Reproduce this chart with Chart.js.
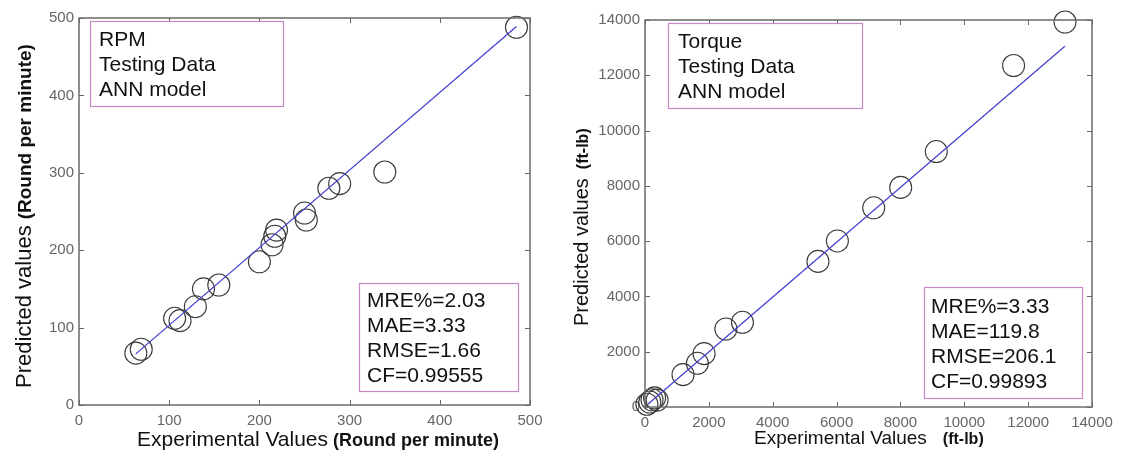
<!DOCTYPE html>
<html>
<head>
<meta charset="utf-8">
<script src="https://cdn.jsdelivr.net/npm/chart.js"></script>
<style>
  html, body { margin: 0; padding: 0; background: #fff; }
  #wrap { position: relative; width: 1121px; height: 457px; }
  .pane { position: absolute; top: 0; }
</style>
</head>
<body>
<div id="wrap">
  <div class="pane" style="left:0"><canvas id="grafico_rpm" width="560" height="457"></canvas></div>
  <div class="pane" style="left:560px"><canvas id="grafico_torque" width="561" height="457"></canvas></div>
</div>
<script>
// RPM testing data (ANN model)
const rpmExperimental = [63, 69, 106, 112, 129, 138, 155, 200, 214, 217, 219, 250, 252, 277, 289, 339, 485];
const rpmPredicted    = [67, 72, 112, 109, 127, 150, 155, 185, 207, 218, 226, 248, 239, 280, 286, 301, 488];
const rpmFitX = [63, 485];
const rpmFitY = [66, 489];
const rpmTicks = [0, 100, 200, 300, 400, 500];
const rpmInfo  = ['RPM', 'Testing Data', 'ANN model'];
const rpmStats = ['MRE%=2.03', 'MAE=3.33', 'RMSE=1.66', 'CF=0.99555'];

// Torque testing data (ANN model)
const torqueExperimental = [60, 150, 220, 300, 380, 1190, 1640, 1850, 2534, 3052, 5417, 6025, 7163, 8008, 9123, 11544, 13155];
const torquePredicted    = [100, 180, 260, 330, 250, 1170, 1580, 1930, 2822, 3064, 5268, 6007, 7206, 7945, 9241, 12353, 13927];
const torqueFitX = [90, 13150];
const torqueFitY = [100, 13050];
const torqueTicks = [0, 2000, 4000, 6000, 8000, 10000, 12000, 14000];
const torqueInfo  = ['Torque', 'Testing Data', 'ANN model'];
const torqueStats = ['MRE%=3.33', 'MAE=119.8', 'RMSE=206.1', 'CF=0.99893'];

const FONT = 'Arial, "Liberation Sans", sans-serif';

// frame with inward ticks, text boxes and axis titles (matlab look)
const decoPlugin = {
  id: 'deco',
  afterDraw(chart, args, o) {
    const { ctx, chartArea: a, scales } = chart;
    ctx.save();
    // inward ticks
    ctx.strokeStyle = '#666';
    ctx.lineWidth = 1;
    scales.x.ticks.forEach(t => {
      const px = Math.round(scales.x.getPixelForValue(t.value)) + 0.5;
      ctx.beginPath();
      ctx.moveTo(px, a.bottom); ctx.lineTo(px, a.bottom - 5);
      ctx.moveTo(px, a.top); ctx.lineTo(px, a.top + 5);
      ctx.stroke();
    });
    scales.y.ticks.forEach(t => {
      const py = Math.round(scales.y.getPixelForValue(t.value)) + 0.5;
      ctx.beginPath();
      ctx.moveTo(a.left, py); ctx.lineTo(a.left + 5, py);
      ctx.moveTo(a.right, py); ctx.lineTo(a.right - 5, py);
      ctx.stroke();
    });
    // box
    ctx.strokeStyle = '#6a6a6a';
    ctx.lineWidth = 1.5;
    ctx.strokeRect(a.left, a.top, a.right - a.left, a.bottom - a.top);

    // text boxes
    ctx.font = '21px ' + FONT;
    ctx.textBaseline = 'alphabetic';
    ctx.textAlign = 'left';
    o.boxes.forEach(b => {
      ctx.fillStyle = '#fff';
      ctx.fillRect(b.x, b.y, b.w, b.h);
      ctx.strokeStyle = '#c58ac5';
      ctx.lineWidth = 1.2;
      ctx.strokeRect(b.x + 0.5, b.y + 0.5, b.w, b.h);
      ctx.fillStyle = '#111';
      b.lines.forEach((s, i) => ctx.fillText(s, b.tx, b.ty + i * 25));
    });

    // x title
    const xt = o.xTitle;
    ctx.fillStyle = '#111';
    ctx.font = xt.size + 'px ' + FONT;
    ctx.fillText(xt.main, xt.x, xt.y);
    let w = ctx.measureText(xt.main).width;
    ctx.font = 'bold ' + xt.subSize + 'px ' + FONT;
    ctx.fillText(xt.sub, xt.x + w + xt.gap, xt.y);

    // y title
    const yt = o.yTitle;
    ctx.translate(yt.x, yt.y);
    ctx.rotate(-Math.PI / 2);
    ctx.font = yt.size + 'px ' + FONT;
    ctx.fillText(yt.main, 0, 0);
    w = ctx.measureText(yt.main).width;
    ctx.font = 'bold ' + yt.subSize + 'px ' + FONT;
    ctx.fillText(yt.sub, w + yt.gap, 0);
    ctx.restore();
  }
};

function pontos(xs, ys) {
  return xs.map((x, i) => ({ x: x, y: ys[i] }));
}

function montaGrafico(el, cfg) {
  const tickOpts = { color: '#666', font: { size: 15, family: FONT }, autoSkip: false, maxRotation: 0, callback: v => String(v) };
  return new Chart(el, {
    type: 'scatter',
    data: {
      datasets: [
        {
          type: 'line',
          data: pontos(cfg.fitX, cfg.fitY),
          borderColor: '#4040d0',
          borderWidth: 1.2,
          pointRadius: 0,
          order: 0
        },
        {
          type: 'line',
          data: pontos(cfg.fitX, cfg.fitY),
          borderColor: 'rgba(30,30,60,0.55)',
          borderWidth: 1,
          borderDash: [2, 7],
          pointRadius: 0,
          order: 0
        },
        {
          data: pontos(cfg.exp, cfg.pred),
          pointStyle: 'circle',
          pointRadius: 11,
          pointBorderWidth: 1.1,
          pointBorderColor: '#3a3a3a',
          pointBackgroundColor: 'rgba(0,0,0,0)',
          clip: false,
          order: 1
        }
      ]
    },
    options: {
      responsive: false,
      animation: false,
      events: [],
      layout: { padding: cfg.padding },
      plugins: {
        legend: { display: false },
        tooltip: { enabled: false },
        deco: cfg.deco
      },
      scales: {
        x: {
          type: 'linear',
          min: cfg.ticks[0],
          max: cfg.ticks[cfg.ticks.length - 1],
          afterBuildTicks: s => { s.ticks = cfg.ticks.map(v => ({ value: v })); },
          afterFit: s => { s.height = cfg.xHeight; },
          grid: { display: false, drawTicks: false },
          border: { display: false },
          ticks: Object.assign({ padding: 7 }, tickOpts)
        },
        y: {
          type: 'linear',
          min: cfg.ticks[0],
          max: cfg.ticks[cfg.ticks.length - 1],
          afterBuildTicks: s => { s.ticks = cfg.ticks.map(v => ({ value: v })); },
          afterFit: s => { s.width = cfg.yWidth; },
          grid: { display: false, drawTicks: false },
          border: { display: false },
          ticks: Object.assign({ padding: 5 }, tickOpts)
        }
      }
    },
    plugins: [decoPlugin]
  });
}

montaGrafico(document.getElementById('grafico_rpm'), {
  exp: rpmExperimental, pred: rpmPredicted, fitX: rpmFitX, fitY: rpmFitY, ticks: rpmTicks,
  padding: { left: 0, top: 18, right: 30, bottom: 0 },
  xHeight: 52, yWidth: 79,
  deco: {
    boxes: [
      { x: 90, y: 21, w: 193, h: 85, tx: 99, ty: 46, lines: rpmInfo },
      { x: 359, y: 283, w: 159, h: 108, tx: 367, ty: 307, lines: rpmStats }
    ],
    xTitle: { main: 'Experimental Values', sub: '(Round per minute)', size: 21, subSize: 18, x: 137, y: 446, gap: 5 },
    yTitle: { main: 'Predicted values', sub: '(Round per minute)', size: 22, subSize: 19, x: 31, y: 388, gap: 6 }
  }
});

montaGrafico(document.getElementById('grafico_torque'), {
  exp: torqueExperimental, pred: torquePredicted, fitX: torqueFitX, fitY: torqueFitY, ticks: torqueTicks,
  padding: { left: 0, top: 20, right: 29, bottom: 0 },
  xHeight: 50, yWidth: 85,
  deco: {
    boxes: [
      { x: 108, y: 23, w: 194, h: 85, tx: 118, ty: 48, lines: torqueInfo },
      { x: 364, y: 287, w: 158, h: 111, tx: 371, ty: 313, lines: torqueStats }
    ],
    xTitle: { main: 'Experimental Values', sub: '(ft-lb)', size: 19, subSize: 16, x: 194, y: 444, gap: 16 },
    yTitle: { main: 'Predicted values', sub: '(ft-lb)', size: 20, subSize: 16, x: 28, y: 326, gap: 9 }
  }
});
</script>
</body>
</html>
